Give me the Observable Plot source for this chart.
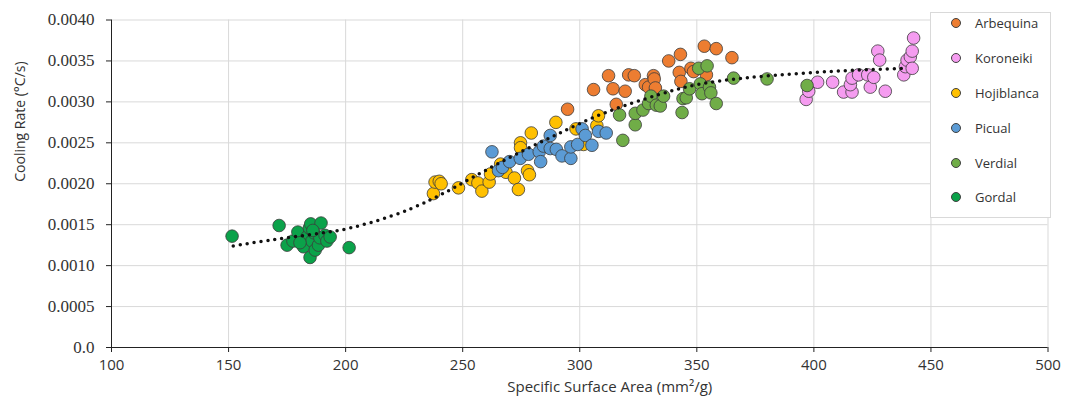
<!DOCTYPE html>
<html>
<head>
<meta charset="utf-8">
<script src="https://cdn.jsdelivr.net/npm/d3@7"></script>
<script src="https://cdn.jsdelivr.net/npm/@observablehq/plot@0.6"></script>
<style>
  html, body { margin: 0; padding: 0; background: #fff; }
  #wrap { position: relative; width: 1067px; height: 403px; }
  #legend {
    position: absolute; left: 930px; top: 12px; width: 121px; height: 206px;
    background: #fff; border: 1px solid #d9d9d9; box-sizing: border-box;
    font-family: "Open Sans", sans-serif; font-size: 13px; color: #333;
  }
  .item { position: absolute; left: 0; height: 20px; display: flex; align-items: center; }
  .sw { width: 10px; height: 10px; border-radius: 50%; border: 1px solid #404040; box-sizing: border-box; margin-left: 20px; margin-right: 14px; }
</style>
</head>
<body>
<div id="wrap"><div id="legend"></div></div>
<script>
// ---- data ----
const seriesNames = ["Arbequina", "Koroneiki", "Hojiblanca", "Picual", "Verdial", "Gordal"];
const seriesColors = ["#ed7d31", "#f59cf0", "#ffc000", "#5b9bd5", "#70ad47", "#0ba24a"];

const arbequina = [
  [294.8,0.00291],[305.9,0.00315],[312.3,0.00332],[314.2,0.00316],[315.6,0.00297],[319.4,0.00313],
  [320.9,0.00333],[323.3,0.00332],[328.0,0.00321],[329.4,0.00318],[331.5,0.00332],[331.8,0.00328],
  [332.3,0.00317],[338.0,0.00350],[342.5,0.00336],[343.0,0.00358],[343.2,0.00325],[347.5,0.00341],
  [348.6,0.00337],[353.2,0.00368],[354.1,0.00333],[358.3,0.00365],[365.0,0.00354]
];
const koroneiki = [
  [396.7,0.00303],[397.8,0.00313],[401.6,0.00324],[408.0,0.00324],[412.7,0.00312],[416.3,0.00312],
  [415.6,0.00321],[416.3,0.00329],[419.1,0.00333],[423.0,0.00333],[424.1,0.00318],[425.6,0.00330],
  [427.3,0.00362],[428.1,0.00351],[430.5,0.00313],[438.4,0.00333],[439.1,0.00343],[439.8,0.00351],
  [441.2,0.00355],[442.0,0.00362],[442.0,0.00341],[442.6,0.00378]
];
const hojiblanca = [
  [237.5,0.00188],[238.2,0.00202],[240.0,0.00203],[240.8,0.00200],[248.2,0.00195],[253.9,0.00205],
  [256.5,0.00201],[258.2,0.00191],[261.3,0.00202],[261.9,0.00212],[266.2,0.00224],[268.5,0.00214],
  [272.1,0.00207],[273.8,0.00193],[274.7,0.00250],[274.7,0.00244],[277.7,0.00216],[278.5,0.00211],
  [279.3,0.00262],[289.8,0.00275],[298.4,0.00267],[301.6,0.00248],[307.3,0.00271],[308.0,0.00283]
];
const picual = [
  [262.5,0.00239],[265.3,0.00216],[267.0,0.00220],[270.0,0.00227],[274.6,0.00231],[278.1,0.00236],
  [282.7,0.00239],[283.3,0.00227],[284.5,0.00246],[287.4,0.00259],[287.4,0.00243],[290.0,0.00242],
  [292.4,0.00234],[296.2,0.00231],[296.2,0.00245],[299.1,0.00248],[301.0,0.00267],[302.4,0.00259],
  [305.2,0.00247],[308.0,0.00264],[311.3,0.00262]
];
const verdial = [
  [317.0,0.00284],[318.4,0.00253],[323.7,0.00272],[323.7,0.00286],[327.0,0.00290],[329.4,0.00298],
  [330.4,0.00307],[332.7,0.00296],[334.4,0.00295],[335.8,0.00307],[343.7,0.00287],[344.1,0.00304],
  [345.5,0.00305],[346.9,0.00316],[350.8,0.00341],[354.4,0.00344],[351.5,0.00322],[352.2,0.00310],
  [355.4,0.00318],[356.0,0.00311],[358.3,0.00298],[365.7,0.00329],[380.0,0.00328],[397.1,0.00320]
];
const gordal = [
  [151.5,0.00136],[171.6,0.00149],[201.5,0.00122],[175.0,0.00125],[177.5,0.00130],[179.6,0.00141],
  [182.0,0.00123],[183.5,0.00135],[184.5,0.00146],[185.1,0.00151],[185.6,0.00130],[184.8,0.00110],
  [186.5,0.00140],[187.0,0.00119],[188.4,0.00125],[189.5,0.00152],[189.0,0.00134],[191.2,0.00137],
  [192.0,0.00130],[193.4,0.00135],[186.0,0.00143],[180.5,0.00128]
];
// dotted trendline
const trend = [
  [152,0.00124],[165,0.00130],[175,0.00134],[190,0.00140],[202,0.00146],[220,0.00161],[236,0.00180],
  [250,0.00201],[270,0.00232],[290,0.00260],[311,0.00287],[334,0.00309],[350,0.00321],[370,0.00329],
  [395,0.00335],[420,0.00339],[440,0.00341]
];
const xTicks = [100,150,200,250,300,350,400,450,500];
const yTicks = [0,0.0005,0.001,0.0015,0.002,0.0025,0.003,0.0035,0.004];
const xLabel = "Specific Surface Area (mm²/g)";
const yLabel = "Cooling Rate (°C/s)";

// ---- build table ----
const seriesData = [arbequina, koroneiki, hojiblanca, picual, verdial, gordal];
const points = [];
seriesData.forEach((arr, i) => arr.forEach(([x, y]) => points.push({series: seriesNames[i], x, y})));
const trendRows = trend.map(([x, y]) => ({x, y}));

const chart = Plot.plot({
  width: 1067, height: 403,
  marginLeft: 111, marginRight: 19.5, marginTop: 19.5, marginBottom: 56,
  x: {domain: [100, 500]},
  y: {domain: [0, 0.004]},
  color: {domain: seriesNames, range: seriesColors},
  style: {background: "white", overflow: "visible"},
  marks: [
    Plot.gridX(xTicks, {stroke: "#d9d9d9", strokeOpacity: 1}),
    Plot.gridY(yTicks, {stroke: "#d9d9d9", strokeOpacity: 1}),
    Plot.ruleX([100], {stroke: "#222", strokeWidth: 1}),
    Plot.ruleY([0], {stroke: "#222", strokeWidth: 1}),
    Plot.dot(points, {x: "x", y: "y", fill: "series", r: 6.3, stroke: "#3c3c3c", strokeWidth: 0.8, fillOpacity: 1}),
    Plot.line(trendRows, {x: "x", y: "y", curve: "natural", stroke: "#111", strokeWidth: 3.5,
      strokeDasharray: "0,7", strokeLinecap: "round"}),
    Plot.axisY(yTicks, {tickFormat: d => d === 0 ? "0.0" : d.toFixed(4), tickSize: 5, tickPadding: 12,
      fontFamily: "Liberation Serif", fontSize: 17, color: "#333", label: null, stroke: "#222"}),
    Plot.axisX(xTicks, {tickSize: 5, tickPadding: 7, fontFamily: "Open Sans", fontSize: 15,
      color: "#333", label: null, stroke: "#222"}),
    Plot.text([yLabel], {frameAnchor: "left", rotate: -90, dx: -91, dy: -2, fontFamily: "Open Sans",
      fontSize: 14, fill: "#333"}),
    Plot.text([xLabel], {frameAnchor: "bottom", dy: 44, dx: 30, fontFamily: "Open Sans",
      fontSize: 15, fill: "#333"})
  ]
});
document.getElementById("wrap").prepend(chart);

// legend
const legend = document.getElementById("legend");
const legendY = [10, 45, 80, 115, 150, 184];
seriesNames.forEach((name, i) => {
  const it = document.createElement("div");
  it.className = "item";
  it.style.top = legendY[i] - 10 + "px";
  const sw = document.createElement("span");
  sw.className = "sw";
  sw.style.background = seriesColors[i];
  it.appendChild(sw);
  it.appendChild(document.createTextNode(name));
  legend.appendChild(it);
});
</script>
</body>
</html>
